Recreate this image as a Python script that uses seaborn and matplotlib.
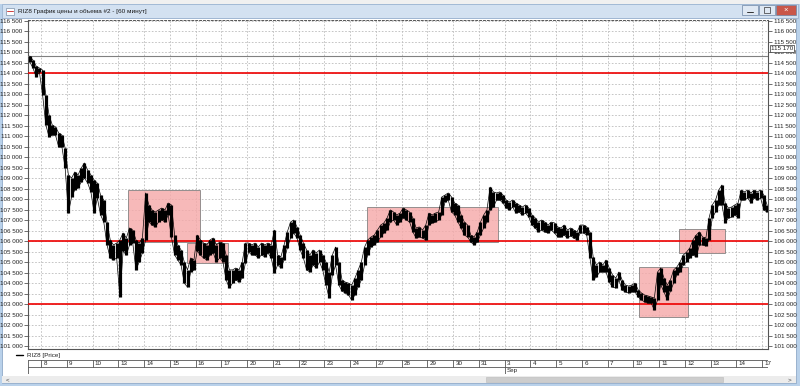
import matplotlib
matplotlib.use("Agg")
import numpy as np
import pandas as pd
import seaborn as sns
import matplotlib.pyplot as plt
from matplotlib.patches import Rectangle
from matplotlib.lines import Line2D

sns.set_style("white")
plt.rcParams['font.family'] = ['Liberation Sans', 'DejaVu Sans']

# ---------------- data (60-minute bars, RIZ8) ----------------
bar_high = [
    114830, 114640, 114350, 114260,
    114160, 112970, 112020, 111540, 111450, 111160, 111060, 110440,
    109160, 109010, 109300, 109160, 109490, 109730, 109390, 109160,
    108920, 108770, 108200, 107960, 106910, 106060, 105820, 105910,
    106060, 106390, 106150, 106630, 106530, 106060, 105910, 106150,
    108300, 107730, 107490, 107390, 107490, 107580, 107490, 107820,
    107730, 106290, 105820, 105580, 105010, 104630, 105200, 105100,
    106290, 106060, 105910, 105820, 106060, 106150, 105820, 105960,
    105910, 105340, 104630, 104630, 104720, 104630, 105010, 105910,
    105910, 105820, 105910, 105720, 105910, 105820, 105910, 105820,
    106530, 105340, 105250, 105820, 106440, 106910, 107010, 106680,
    106290, 105910, 105580, 105340, 105580, 105440, 105580, 105340,
    105010, 104530, 105340, 105720, 105010, 104150, 104050, 104000,
    103910, 104240, 104630, 105010, 105720, 106060, 106200, 106290,
    106530, 106770, 106870, 107110, 107490, 107390, 107250, 107340,
    107580, 107490, 107390, 107110, 106630, 106680, 106530, 106770,
    107340, 107250, 107340, 107390, 108110, 108200, 108300, 108110,
    107820, 107730, 107250, 106910, 106770, 106290, 106200, 106440,
    106910, 107250, 107490, 108580, 108350, 108300, 108350, 108200,
    107960, 107870, 107960, 107820, 107730, 107630, 107730, 107580,
    107250, 107110, 106910, 107010, 106910, 106770, 106910, 106870,
    106680, 106630, 106770, 106530, 106630, 106530, 106440, 106770,
    106770, 106680, 106440, 105250, 104860, 105010, 104860, 105100,
    104720, 104390, 104240, 104530, 104150, 103910, 103860, 103910,
    104000, 103670, 103530, 103430, 103390, 103340, 103290, 104530,
    104720, 104240, 103910, 104150, 104630, 104770, 105010, 105340,
    105480, 105670, 106060, 106290, 106440, 106200, 106150, 107110,
    107730, 107960, 108440, 108680, 107820, 107580, 107630, 107730,
    107820, 108440, 108350, 108440, 108300, 108440, 108350, 108440,
    108200, 107730,
]
bar_low = [
    114550, 114260, 113830, 114070,
    112970, 111540, 110970, 111060, 111060, 110490, 110490, 109490,
    107340, 108110, 108440, 108540, 108820, 109010, 108770, 108350,
    107340, 108060, 107250, 106910, 105820, 105200, 105100, 105200,
    103340, 105530, 105340, 105820, 105910, 104630, 105010, 105440,
    106060, 106910, 106770, 106680, 106910, 107010, 106910, 107250,
    106200, 105340, 105100, 104860, 104000, 103810, 104530, 104630,
    105530, 105340, 105200, 105100, 105340, 105440, 105010, 105200,
    105010, 104150, 103770, 104000, 104150, 104050, 104240, 104960,
    105480, 105340, 105340, 105200, 105340, 105250, 105440, 105200,
    104480, 104860, 104720, 105100, 105670, 106150, 106390, 106150,
    105580, 105200, 104630, 104530, 104860, 104720, 105010, 104630,
    103910, 103290, 104390, 104860, 103910, 103620, 103530, 103430,
    103200, 103430, 103810, 104150, 104860, 105340, 105720, 105820,
    105960, 106200, 106390, 106530, 106910, 107010, 106770, 106910,
    107110, 107010, 106910, 106440, 106150, 106200, 106150, 106060,
    106770, 106870, 106910, 107010, 107250, 107870, 107960, 107390,
    107250, 106910, 106630, 106290, 106200, 105960, 105820, 105960,
    106290, 106630, 106910, 107490, 107630, 107960, 107960, 107820,
    107580, 107490, 107630, 107340, 107390, 107250, 107340, 107150,
    106770, 106630, 106440, 106530, 106440, 106390, 106530, 106390,
    106200, 106200, 106290, 106150, 106250, 106150, 106060, 106390,
    106390, 106290, 105200, 104150, 104290, 104530, 104530, 104530,
    104050, 103810, 103770, 104150, 103670, 103580, 103530, 103580,
    103580, 103340, 103200, 103100, 103050, 103050, 102720, 103200,
    103910, 103580, 103200, 103620, 104000, 104390, 104530, 104860,
    105010, 105200, 105340, 105250, 105820, 105820, 105770, 106060,
    107110, 107390, 107730, 107730, 106870, 107110, 107150, 107250,
    107110, 107960, 107960, 108060, 107820, 108060, 107960, 108060,
    107490, 107390,
]
day_labels = ['8', '9', '10', '13', '14', '15', '16', '17', '20', '21', '22',
              '23', '24', '27', '28', '29', '30', '31', '3', '4', '5', '6',
              '7', '10', '11', '12', '13', '14', '17']
month_label = 'Sep'
month_day = 18            # index in day_labels where September starts
first_day_bars = 4        # bars of the partial day before the first label
bars_per_day = 8

level_values = [114000, 106000, 103000]
gray_level = 114830
last_price = 115170

zone_start = [30.5, 48.9, 104.8, 189.3, 201.7]   # in bar-index units
zone_end = [52.9, 61.6, 145.5, 204.5, 216.0]
zone_top = [108440, 105900, 107620, 104780, 106560]
zone_bottom = [105960, 104950, 105975, 102400, 105420]

title = "RIZ8 График цены и объема #2 - [60 минут]"
legend_label = "RIZ8 [Price]"

# ---------------- figure ----------------
W, H = 800, 386
fig = plt.figure(figsize=(W / 100, H / 100), dpi=100)
fig.patch.set_facecolor('white')

def fx(px):
    return px / W

def fy(py):
    return 1 - py / H

# window chrome
frame_col = '#b9d1ea'
fig.add_artist(Rectangle((0, fy(386)), 1, fy(0) - fy(386), transform=fig.transFigure,
                         facecolor=frame_col, edgecolor='none', zorder=-10))
fig.add_artist(Rectangle((fx(2), fy(383)), fx(794), fy(18) - fy(383), transform=fig.transFigure,
                         facecolor='white', edgecolor='#8fa9c8', lw=0.6, zorder=-9))
# title bar
fig.add_artist(Rectangle((fx(2), fy(18)), fx(796), fy(4) - fy(18), transform=fig.transFigure,
                         facecolor='#d3e1f1', edgecolor='#9db4d1', lw=0.6, zorder=-8))
fig.add_artist(Rectangle((0, fy(4)), 1, fy(0) - fy(4), transform=fig.transFigure,
                         facecolor='#f0f0f0', edgecolor='none', zorder=-8))
fig.add_artist(Rectangle((fx(6), fy(15)), fx(8), fy(8) - fy(15), transform=fig.transFigure,
                         facecolor='white', edgecolor='#7a8fa8', lw=0.5))
fig.add_artist(Line2D([fx(7), fx(13)], [fy(11), fy(11)], color='#d04040', lw=0.7))
fig.text(fx(18), fy(11.5), title, fontsize=4.6, va='center', ha='left', color='#1a1a1a')
for x0, x1, fc in [(742, 758, '#dfe8f3'), (759, 775, '#dfe8f3'), (776, 796, '#c9574a')]:
    fig.add_artist(Rectangle((fx(x0), fy(15)), fx(x1 - x0), fy(5) - fy(15), transform=fig.transFigure,
                             facecolor=fc, edgecolor='#6c84a3', lw=0.5))
fig.add_artist(Line2D([fx(747), fx(753)], [fy(12), fy(12)], color='#333333', lw=0.7))
fig.add_artist(Rectangle((fx(764), fy(12.5)), fx(6), fy(7.5) - fy(12.5), transform=fig.transFigure,
                         facecolor='none', edgecolor='#333333', lw=0.5))
fig.text(fx(786), fy(10), '×', fontsize=5.5, ha='center', va='center', color='white')

# ---------------- main price axes ----------------
y_top_px, y_bot_px = 20, 349
v_per_px = 47.69
ymax = 116500 + (21 - y_top_px) * v_per_px
ymin = 116500 - (y_bot_px - 21) * v_per_px
ax = fig.add_axes([fx(28), fy(y_bot_px), fx(768 - 28), fy(y_top_px) - fy(y_bot_px)])
n = len(bar_high)
t = np.arange(n)
xmin, xmax = -0.54, 229.3
ax.set_xlim(xmin, xmax)
ax.set_ylim(ymin, ymax)

day_bounds = [first_day_bars - 0.5 + bars_per_day * k for k in range(len(day_labels))]
ax.set_xticks(day_bounds)
ax.set_xticklabels([])
yt = np.arange(101000, 116501, 500)
ax.set_yticks(yt)
ax.set_yticklabels([f"{v:,}".replace(',', ' ') for v in yt])
ax.tick_params(axis='y', which='both', left=True, right=True, labelleft=True, labelright=True,
               length=3, width=0.6, color='#555555', labelsize=4.5, pad=1, labelcolor='#222222')
ax.tick_params(axis='x', length=0)
ax.grid(True, ls=(0, (2, 2)), color='#bcbcbc', lw=0.6)
ax.set_axisbelow(True)
for side in ['left', 'right', 'bottom']:
    ax.spines[side].set_color('#555555')
    ax.spines[side].set_linewidth(0.8)
ax.spines['top'].set_linestyle((0, (2, 2)))
ax.spines['top'].set_color('#555555')
ax.spines['top'].set_linewidth(0.7)

# zones
for x0, x1, top, bot in zip(zone_start, zone_end, zone_top, zone_bottom):
    ax.add_patch(Rectangle((x0, bot), x1 - x0, top - bot, facecolor='#f6a8a8', alpha=0.8,
                           edgecolor='#7a7a7a', lw=0.7, zorder=2))

# levels
for lv in level_values:
    ax.axhline(lv, color='#ee0000', lw=1.2, zorder=3)
ax.axhline(gray_level, color='#808080', lw=0.8, zorder=3)

# price bars
df = pd.DataFrame({'t': t, 'high': bar_high, 'low': bar_low})
ax.vlines(df['t'], df['low'], df['high'], color='black', lw=2.3, zorder=4)
sns.lineplot(data=df, x='t', y='high', ax=ax, color='black', lw=0.5, zorder=4, legend=False)
sns.lineplot(data=df, x='t', y='low', ax=ax, color='black', lw=0.5, zorder=4, legend=False)
ax.set_xlabel('')
ax.set_ylabel('')

# last price box on right scale
ax.text(1.004, (last_price - ymin) / (ymax - ymin), f"{last_price:,}".replace(',', ' '),
        transform=ax.transAxes, fontsize=4.5, va='center', ha='left', color='#222222',
        bbox=dict(boxstyle='square,pad=0.15', facecolor='white', edgecolor='#333333', lw=0.5),
        zorder=10, clip_on=False)

# legend
fig.add_artist(Line2D([fx(16), fx(23)], [fy(355), fy(355)], color='black', lw=1.0))
fig.text(fx(27), fy(355), legend_label, fontsize=4.5, va='center', ha='left', color='#222222')

# ---------------- date strip ----------------
ax2 = fig.add_axes([fx(28), fy(374), fx(768 - 28), fy(360) - fy(374)])
ax2.set_xlim(xmin, xmax)
ax2.set_ylim(0, 1)
ax2.axis('off')
ln = dict(color='#555555', lw=0.6)
ax2.plot([xmin, xmax], [1, 1], **ln)
ax2.plot([xmin, xmax], [0.5, 0.5], **ln)
ax2.plot([xmin, xmax], [0, 0], **ln)
ax2.plot([xmin, xmin], [0, 1], **ln)
ax2.plot([xmax - 0.05, xmax - 0.05], [0, 0.5], **ln)
for b, lab in zip(day_bounds, day_labels):
    ax2.plot([b, b], [0.5, 1], **ln)
    ax2.text(b + 0.7, 0.74, lab, fontsize=4.5, va='center', ha='left', color='#222222')
mb = day_bounds[month_day]
ax2.plot([mb, mb], [0, 0.5], **ln)
ax2.text(mb + 0.7, 0.24, month_label, fontsize=4.5, va='center', ha='left', color='#222222')

# scrollbar
fig.add_artist(Rectangle((fx(2), fy(383)), fx(794), fy(376) - fy(383), transform=fig.transFigure,
                         facecolor='#ececec', edgecolor='none'))
fig.add_artist(Rectangle((fx(486), fy(382)), fx(723 - 486), fy(377) - fy(382), transform=fig.transFigure,
                         facecolor='#cdcdcd', edgecolor='#bbbbbb', lw=0.4))
fig.text(fx(8), fy(379.5), '<', fontsize=4.5, va='center', ha='center', color='#444444')
fig.text(fx(789), fy(379.5), '>', fontsize=4.5, va='center', ha='center', color='#444444')

fig.savefig('out.png', dpi=100)
